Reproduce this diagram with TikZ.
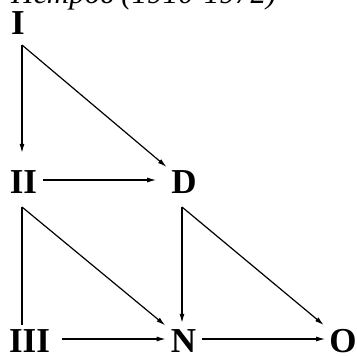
\documentclass[tikz,border=0pt]{standalone}
\usepackage{fontspec}
\setmainfont{Liberation Serif}
\usetikzlibrary{arrows.meta, calc}
\newcommand{\lblfont}{\fontsize{35}{35}\selectfont\bfseries}
\newcommand{\ttlfont}{\fontsize{31}{31}\selectfont\itshape}
\tikzset{
  lbl/.style={font=\lblfont, inner sep=0pt},
  arr/.style={-{Latex[length=9pt,width=5pt]}, line width=1.2pt},
  ln/.style={line width=1.2pt}
}

\begin{document}
\begin{tikzpicture}[x=1pt, y=-1pt]
\clip (0,0) rectangle (357,356);
% title, cut by the top edge
\node[font=\ttlfont, anchor=base west, inner sep=0pt] (ttl) at (11,3)
  {Петров (1910-1972)};
% the nodes
\node[lbl] (I)   at (18,23)      {I};
\node[lbl] (II)  at (23.5,182.5) {II};
\node[lbl] (D)   at (184,182.5)  {D};
\node[lbl] (III) at (29.5,341.5) {III};
\node[lbl] (N)   at (183.5,341.5){N};
\node[lbl] (O)   at (343,341.5)  {O};
% corners where the links start
\coordinate (Ic)  at (22,45);
\coordinate (IIc) at (22,207);
\coordinate (Dc)  at (182,207);
% downward links
\draw[arr, shorten >=18pt] (Ic) -- (Ic |- II.north);
\draw[arr, shorten >=6pt]  (Ic) -- (D.north west);
\draw[ln,  shorten >=5pt]  (IIc) -- (IIc |- III.north);
\draw[arr, shorten >=7pt]  (IIc) -- (N.north west);
\draw[arr, shorten >=7pt]  (Dc) -- (Dc |- N.north);
\draw[arr, shorten >=7pt]  (Dc) -- (O.north west);
% horizontal links
\foreach \a/\b/\s/\t in {II/D/6/15, III/N/12/5, N/O/6/4}{
  \draw[arr, shorten <=\s pt, shorten >=\t pt]
    ([yshift=2.5pt]\a.east) -- ([yshift=2.5pt]\b.west);
}
\end{tikzpicture}
\end{document}
